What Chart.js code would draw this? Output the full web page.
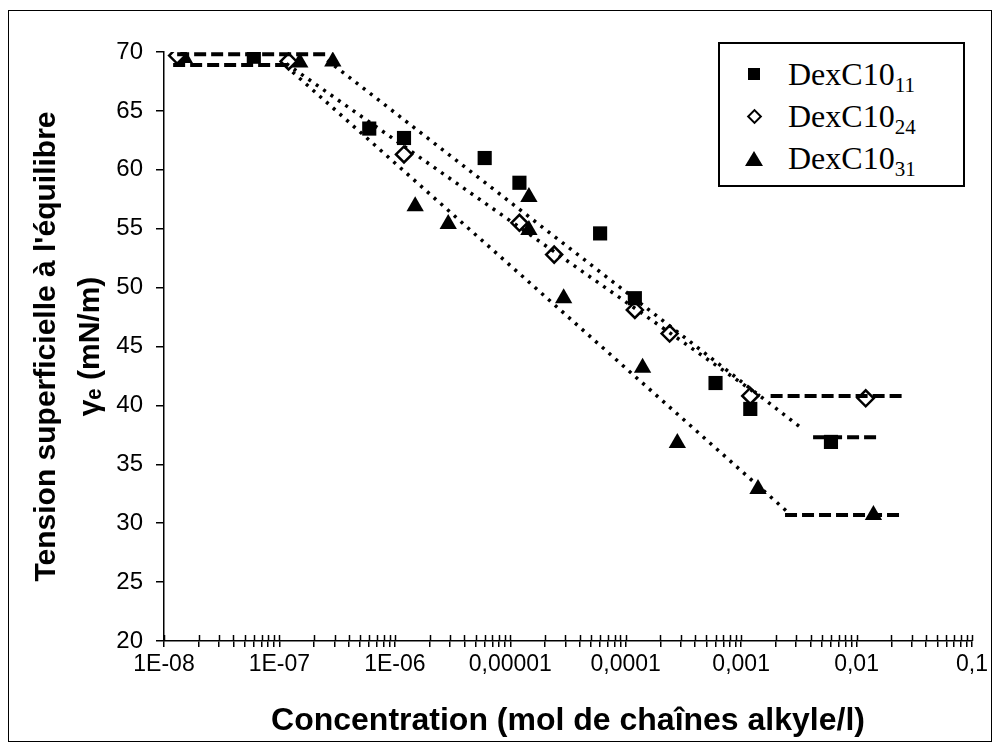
<!DOCTYPE html>
<html>
<head>
<meta charset="utf-8">
<script src="https://cdn.jsdelivr.net/npm/chart.js@4/dist/chart.umd.min.js"></script>
<style>
  body { margin: 0; background: #fff; }
  #wrap { position: relative; width: 1000px; height: 751px; }
  #legend {
    position: absolute; left: 718px; top: 42px; width: 247px; height: 145px;
    box-sizing: border-box; border: 2px solid #000; background: #fff;
    font-family: "Liberation Serif", "Times New Roman", serif; font-size: 32px;
    padding-top: 9px;
  }
  .row { display: flex; align-items: center; height: 42px; }
  .mk { width: 68px; display: flex; justify-content: center; align-items: center; }
  .row sub { font-size: 21px; vertical-align: -7px; line-height: 0; }
  .sq { width: 12px; height: 12px; background: #000; }
  .di { width: 7px; height: 7px; border: 2px solid #000; background: #fff; transform: rotate(45deg); }
  .tr { width: 0; height: 0; border-left: 9px solid transparent; border-right: 9px solid transparent; border-bottom: 15px solid #000; }
</style>
</head>
<body>
<div id="wrap">
  <canvas id="chart" width="1000" height="751"></canvas>
  <div id="legend"></div>
</div>
<script>
// measured points (concentration in mol/l, tension in mN/m)
const sqX = [6e-8, 6e-7, 1.2e-6, 6e-6, 1.2e-5, 6e-5, 1.2e-4, 6e-4, 1.2e-3, 6e-3];
const sqY = [69.6, 63.5, 62.7, 61.0, 58.9, 54.6, 49.1, 41.9, 39.7, 36.9];
const diX = [1.3e-8, 1.2e-7, 1.2e-6, 1.2e-5, 2.4e-5, 1.2e-4, 2.4e-4, 1.2e-3, 1.2e-2];
const diY = [69.7, 69.2, 61.3, 55.5, 52.8, 48.1, 46.1, 40.8, 40.6];
const trX = [1.5e-8, 1.5e-7, 2.9e-7, 1.5e-6, 2.9e-6, 1.45e-5, 1.45e-5, 2.9e-5, 1.4e-4, 2.8e-4, 1.4e-3, 1.4e-2];
const trY = [69.5, 69.1, 69.2, 56.9, 55.4, 57.7, 54.9, 49.1, 43.2, 36.8, 32.9, 30.7];

// hand drawn guide lines
const topPlateauX = [1.3e-8, 2.6e-7], topPlateauY = [69.8, 69.8];
const lowPlateauX = [1.2e-8, 1.2e-7], lowPlateauY = [68.9, 68.9];
const sqFitX = [2.6e-7, 3.2e-3], sqFitY = [69.3, 38.2];
const diFitX = [1.15e-7, 1.45e-3], diFitY = [69.0, 40.8];
const trFitX = [1.3e-7, 2.7e-3], trFitY = [68.3, 30.7];
const sqEndX = [4.2e-3, 1.55e-2], sqEndY = [37.3, 37.3];
const diEndX = [1.8e-3, 2.5e-2], diEndY = [40.8, 40.8];
const trEndX = [2.4e-3, 2.5e-2], trEndY = [30.7, 30.7];

const seriesNames = ['DexC10', 'DexC10', 'DexC10'];
const seriesSubs = ['11', '24', '31'];
const seriesMarks = ['sq', 'di', 'tr'];

const xTickExps = [-8, -7, -6, -5, -4, -3, -2, -1];
const xTickLabels = ['1E-08', '1E-07', '1E-06', '0,00001', '0,0001', '0,001', '0,01', '0,1'];
const xTitle = 'Concentration (mol de chaînes alkyle/l)';
const yTitle = ["Tension superficielle à l'équilibre", 'γₑ (mN/m)'];

const pts = (xs, ys) => xs.map((x, i) => ({x, y: ys[i]}));

// 1..9 x 10^e for every decade, up to 0.1
const xTickValues = [];
xTickExps.forEach(e => {
    for (let d = 1; d <= 9; d++) {
        const v = Number(d + 'e' + e);
        if (v <= 0.1) xTickValues.push(v);
    }
});

const guide = (xs, ys, dotted) => ({
    type: 'line',
    data: pts(xs, ys),
    borderColor: '#000',
    borderWidth: dotted ? 3.5 : 4,
    borderDash: dotted ? [3, 6] : [12, 5],
    pointRadius: 0,
    showLine: true,
    fill: false,
});

const extras = {
    id: 'extras',
    afterDraw(chart) {
        const {ctx, scales: {x}} = chart;
        ctx.save();
        ctx.strokeStyle = '#000';
        ctx.lineWidth = 1.5;
        x.ticks.forEach(t => {
            const px = Math.round(x.getPixelForValue(t.value)) + 0.5;
            ctx.beginPath();
            ctx.moveTo(px, x.top - 6);
            ctx.lineTo(px, x.top);
            ctx.stroke();
        });
        ctx.lineWidth = 1;
        ctx.strokeRect(8.5, 10.5, 983, 731);
        ctx.restore();
    }
};

const fam = '"Liberation Sans", Arial, sans-serif';

new Chart(document.getElementById('chart').getContext('2d'), {
    type: 'scatter',
    data: {
        datasets: [
            guide(topPlateauX, topPlateauY, false),
            guide(lowPlateauX, lowPlateauY, false),
            guide(sqFitX, sqFitY, true),
            guide(diFitX, diFitY, true),
            guide(trFitX, trFitY, true),
            guide(sqEndX, sqEndY, false),
            guide(diEndX, diEndY, false),
            guide(trEndX, trEndY, false),
            {
                label: seriesNames[0] + seriesSubs[0],
                data: pts(sqX, sqY),
                pointStyle: 'rect', pointRadius: 10,
                backgroundColor: '#000', borderColor: '#000', borderWidth: 0,
            },
            {
                label: seriesNames[1] + seriesSubs[1],
                data: pts(diX, diY),
                pointStyle: 'rectRot', pointRadius: 8,
                backgroundColor: '#fff', borderColor: '#000', borderWidth: 2.5,
            },
            {
                label: seriesNames[2] + seriesSubs[2],
                data: pts(trX, trY),
                pointStyle: 'triangle', pointRadius: 10,
                backgroundColor: '#000', borderColor: '#000', borderWidth: 0,
            },
        ]
    },
    options: {
        responsive: false,
        animation: false,
        layout: {padding: {left: 10, top: 52, right: 28, bottom: 10}},
        plugins: {legend: {display: false}, tooltip: {enabled: false}},
        scales: {
            x: {
                type: 'logarithmic',
                min: 1e-8,
                max: 0.1,
                afterBuildTicks: s => { s.ticks = xTickValues.map(value => ({value})); },
                afterFit: s => { s.height = 100; },
                grid: {drawOnChartArea: false, color: '#000', tickLength: 6, lineWidth: 1.5},
                border: {color: '#000', width: 1.5},
                ticks: {
                    autoSkip: false, maxRotation: 0, minRotation: 0, padding: 4,
                    color: '#000', font: {family: fam, size: 23},
                    callback: v => {
                        const e = Math.log10(v);
                        const i = xTickExps.indexOf(Math.round(e));
                        return Math.abs(e - Math.round(e)) < 1e-6 && i >= 0 ? xTickLabels[i] : '';
                    }
                },
                title: {
                    display: true, text: xTitle, color: '#000',
                    font: {family: fam, size: 32, weight: 'bold'},
                    padding: {top: 0, bottom: 1}
                }
            },
            y: {
                min: 20,
                max: 70,
                afterFit: s => { s.width = 154; },
                grid: {drawOnChartArea: false, color: '#000', tickLength: 8, lineWidth: 1.5},
                border: {color: '#000', width: 1.5},
                ticks: {stepSize: 5, padding: 13, color: '#000', font: {family: fam, size: 24}},
                title: {
                    display: true, text: yTitle, color: '#000',
                    font: {family: fam, size: 30, weight: 'bold', lineHeight: 1.45},
                    padding: {top: 15, bottom: 0}
                }
            }
        }
    },
    plugins: [extras]
});

const legend = document.getElementById('legend');
seriesNames.forEach((name, i) => {
    const row = document.createElement('div');
    row.className = 'row';
    row.innerHTML = '<span class="mk"><span class="' + seriesMarks[i] + '"></span></span>' +
        '<span>' + name + '<sub>' + seriesSubs[i] + '</sub></span>';
    legend.appendChild(row);
});
</script>
</body>
</html>
